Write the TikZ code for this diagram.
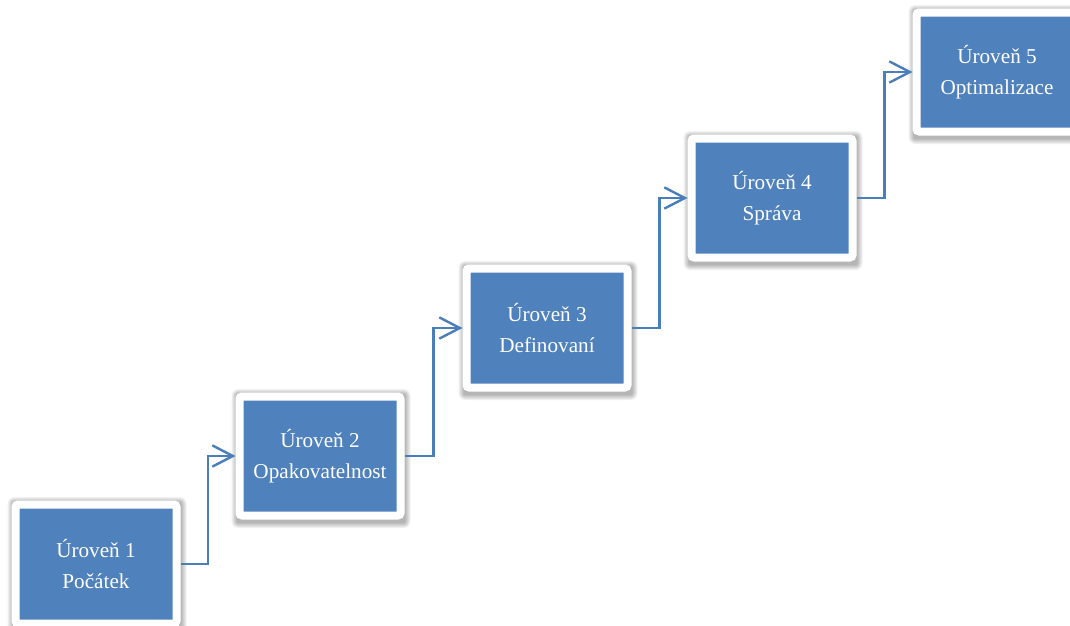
\documentclass[tikz,border=0pt]{standalone}
\usepackage{fontspec}
\setmainfont{Liberation Serif}
\usetikzlibrary{arrows.meta,calc,backgrounds}
\definecolor{levelblue}{HTML}{4F81BD}
\definecolor{linkblue}{HTML}{4A7EBB}
\begin{document}
\begin{tikzpicture}[x=0.75pt,y=-0.75pt,
  level/.style={fill=levelblue, draw=white, line width=6pt,
    rounded corners=2pt, minimum width=120.75pt, minimum height=89.25pt,
    inner sep=0pt, align=center, text=white,
    font=\fontsize{15.9}{23.5}\selectfont},
  softshade/.style={fill=black, fill opacity=0.055},
  link/.style={draw=linkblue, line width=1.8pt,
    -{Straight Barb[length=15.5pt,width=16pt,line width=1.8pt]}}]
\useasboundingbox (0,0) rectangle (1070,625);
\node[level] (l1) at (96,564) {Úroveň 1\\Počátek};
\node[level] (l2) at (320,456) {Úroveň 2\\Opakovatelnost};
\node[level] (l3) at (547,328) {Úroveň 3\\Definovaní};
\node[level] (l4) at (772,198) {Úroveň 4\\Správa};
\node[level] (l5) at (997,72) {Úroveň 5\\Optimalizace};
% soft shadow under each box, built from a few translucent layers
\begin{scope}[on background layer]
  \foreach \n in {l1,l2,l3,l4,l5}{
    \foreach \k in {0,...,5}{
      \fill[softshade, rounded corners=\k*0.8pt+1pt]
        ($(\n.north west)+(1-\k,1.5-\k)$) rectangle ($(\n.south east)+(1+\k,3.5+\k)$);
    }
  }
\end{scope}
\foreach \a/\b in {l1/l2,l2/l3,l3/l4,l4/l5}{
  \draw[link] (\a.east) -| ($(\a.east)!0.5!(\b.west)$) |- (\b.west);
}
\end{tikzpicture}
\end{document}
